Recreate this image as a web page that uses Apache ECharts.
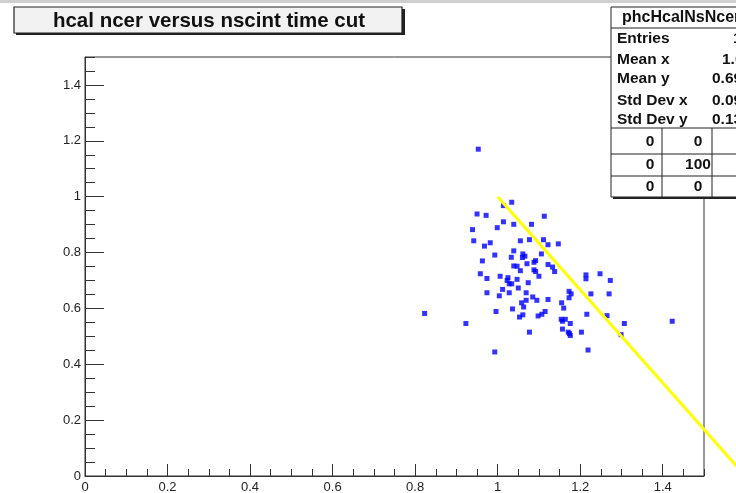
<!DOCTYPE html>
<html>
<head>
<meta charset="utf-8">
<style>html,body{margin:0;padding:0;background:#fff;}#c{width:736px;height:493px;}</style>
<script src="https://cdn.jsdelivr.net/npm/echarts@6/dist/echarts.min.js"></script>
</head>
<body>
<div id="c"></div>
<script>
// ---- data ----
const titleText = 'hcal ncer versus nscint time cut';
const xVals = [0.953,1.034,1.014,0.950,0.972,1.113,1.014,0.999,1.039,1.082,
  0.939,0.942,0.982,0.968,1.055,1.077,1.111,1.122,1.147,0.993,
  1.039,1.033,1.061,1.066,1.106,0.963,1.092,1.088,1.071,1.039,
  1.047,1.055,1.088,1.092,1.122,1.133,1.138,0.958,1.006,0.974,
  1.025,1.023,1.047,1.100,1.028,1.034,1.074,1.214,1.214,1.248,
  1.273,1.012,1.050,0.974,1.028,1.069,1.004,1.173,1.178,1.173,
  1.226,1.270,1.085,1.122,1.069,1.058,1.095,1.155,1.063,1.160,
  0.823,0.996,1.036,1.061,1.053,1.115,1.107,1.098,1.216,1.265,
  1.154,1.164,1.157,1.176,1.307,1.423,0.923,1.077,1.157,1.171,
  1.174,1.176,1.203,1.299,0.993,1.219,1.060];
const yVals = [1.170,0.980,0.968,0.938,0.933,0.930,0.910,0.889,0.901,0.901,
  0.882,0.842,0.835,0.823,0.842,0.846,0.846,0.828,0.831,0.791,
  0.806,0.783,0.795,0.787,0.795,0.770,0.771,0.765,0.760,0.752,
  0.751,0.735,0.738,0.732,0.757,0.748,0.732,0.724,0.715,0.707,
  0.710,0.700,0.704,0.715,0.688,0.688,0.692,0.720,0.706,0.724,
  0.700,0.668,0.673,0.656,0.656,0.656,0.645,0.661,0.652,0.638,
  0.652,0.652,0.641,0.632,0.629,0.620,0.629,0.620,0.605,0.601,
  0.582,0.589,0.598,0.577,0.569,0.589,0.579,0.573,0.579,0.574,
  0.561,0.561,0.554,0.546,0.546,0.554,0.546,0.515,0.526,0.515,
  0.510,0.503,0.515,0.506,0.444,0.451,0.782];
const cutLineX = [1.0, 1.6];
const cutLineY = [1.0, 0.0];
const statsTitle = 'phcHcalNsNcer';
const statsLabels = ['Entries','Mean x','Mean y','Std Dev x','Std Dev y'];
const statsValues = ['100','1.081','0.6937','0.0938','0.1306'];
const tableCells = [['0','0','0'],['0','100','0'],['0','0','0']];
const axisMin = 0, axisMax = 1.5, majorStep = 0.2, minorStep = 0.05;
const lineAxisMax = 1.6;

// ---- build ----
const scatterData = xVals.map((x,i)=>[x,yVals[i]]);
const lineData = cutLineX.map((x,i)=>[x,cutLineY[i]]);
const font = 'Liberation Sans, Arial, Helvetica, sans-serif';
const lbl = {color:'#222', fontSize:13, fontFamily:font};

const G = {left:85, top:57, right:704, bottom:476};
const gw = G.right-G.left, gh = G.bottom-G.top;

const graphics = [];
graphics.push({type:'rect', shape:{x:0,y:0,width:736,height:3}, style:{fill:'#cfcfcf'}, z:1});
// title box
graphics.push({type:'rect', shape:{x:16,y:9,width:389,height:26}, style:{fill:'#222'}, z:10});
graphics.push({type:'rect', shape:{x:14,y:7,width:388,height:26}, style:{fill:'#f2f2f2', stroke:'#222', lineWidth:1.2}, z:11});
graphics.push({type:'text', x:209, y:21, style:{text:titleText, font:'bold 20.5px '+font, fill:'#111', align:'center', verticalAlign:'middle'}, z:12});
// stats box
const sx = 611, sy = 7, sw = 220, sh = 190;
graphics.push({type:'rect', shape:{x:sx+2,y:sy+2,width:sw,height:sh}, style:{fill:'#222'}, z:10});
graphics.push({type:'rect', shape:{x:sx,y:sy,width:sw,height:sh}, style:{fill:'#fff', stroke:'#222', lineWidth:1}, z:11});
graphics.push({type:'line', shape:{x1:sx,y1:28,x2:sx+sw,y2:28}, style:{stroke:'#222', lineWidth:1}, z:12});
graphics.push({type:'text', x:622, y:18, style:{text:statsTitle, font:'bold 16px '+font, fill:'#111', align:'left', verticalAlign:'middle'}, z:12});
const rowY = [39,60,79,101,120];
const valX = [733,722,712,712,712];
statsLabels.forEach((t,i)=>{
  graphics.push({type:'text', x:617, y:rowY[i], style:{text:t, font:'bold 15.5px '+font, fill:'#111', align:'left', verticalAlign:'middle'}, z:12});
  graphics.push({type:'text', x:valX[i], y:rowY[i], style:{text:statsValues[i], font:'bold 15.5px '+font, fill:'#111', align:'left', verticalAlign:'middle'}, z:12});
});
[128,154,176].forEach(y=>graphics.push({type:'line', shape:{x1:sx,y1:y,x2:sx+sw,y2:y}, style:{stroke:'#222', lineWidth:1}, z:12}));
[662,712].forEach(x=>graphics.push({type:'line', shape:{x1:x,y1:128,x2:x,y2:sy+sh}, style:{stroke:'#222', lineWidth:1}, z:12}));
const cellY = [142,165,187];
const cellX = [650,698,748];
tableCells.forEach((row,r)=>row.forEach((t,c)=>{
  graphics.push({type:'text', x:cellX[c], y:cellY[r], style:{text:t, font:'bold 15.5px '+font, fill:'#111', align:'center', verticalAlign:'middle'}, z:12});
}));

const hiddenAxis = {axisLine:{show:false}, axisTick:{show:false}, axisLabel:{show:false}, splitLine:{show:false}};

const chart = echarts.init(document.getElementById('c'), null, {renderer:'canvas'});
chart.setOption({
  animation:false,
  backgroundColor:'#fff',
  grid:[
    {left:G.left, top:G.top, width:gw, height:gh, show:true, borderColor:'#333', borderWidth:1, backgroundColor:'transparent', containLabel:false, outerBoundsMode:'none'},
    {left:G.left, top:G.top, width:gw*(lineAxisMax-axisMin)/(axisMax-axisMin), height:gh, show:false, containLabel:false, outerBoundsMode:'none'}
  ],
  xAxis:[
    {type:'value', gridIndex:0, position:'bottom', min:axisMin, max:axisMax, interval:majorStep,
     axisLine:{show:true, onZero:false, lineStyle:{color:'#333', width:1}},
     axisTick:{show:true, inside:true, length:12, lineStyle:{color:'#333'}},
     axisLabel:{...lbl, margin:5, showMaxLabel:false, formatter:v=>(Math.abs(v-axisMax)<1e-9?'':String(+v.toFixed(2)))},
     splitLine:{show:false}},
    {type:'value', gridIndex:0, position:'bottom', min:axisMin, max:axisMax, interval:minorStep,
     axisLine:{show:false, onZero:false},
     axisTick:{show:true, inside:true, length:7, lineStyle:{color:'#333'}},
     axisLabel:{show:false}, splitLine:{show:false}},
    {type:'value', gridIndex:1, min:axisMin, max:lineAxisMax, ...hiddenAxis}
  ],
  yAxis:[
    {type:'value', gridIndex:0, position:'left', min:axisMin, max:axisMax, interval:majorStep,
     axisLine:{show:true, onZero:false, lineStyle:{color:'#333', width:1}},
     axisTick:{show:true, inside:true, length:19, lineStyle:{color:'#333'}},
     axisLabel:{...lbl, margin:4, showMaxLabel:false, formatter:v=>(Math.abs(v-axisMax)<1e-9?'':String(+v.toFixed(2)))},
     splitLine:{show:false}},
    {type:'value', gridIndex:0, position:'left', min:axisMin, max:axisMax, interval:minorStep,
     axisLine:{show:false, onZero:false},
     axisTick:{show:true, inside:true, length:10, lineStyle:{color:'#333'}},
     axisLabel:{show:false}, splitLine:{show:false}},
    {type:'value', gridIndex:1, min:axisMin, max:axisMax, ...hiddenAxis}
  ],
  series:[
    {type:'scatter', xAxisIndex:0, yAxisIndex:0, data:scatterData, symbol:'rect', symbolSize:5,
     itemStyle:{color:'#0000ff'}, z:3, silent:true},
    {type:'line', xAxisIndex:2, yAxisIndex:2, data:lineData, showSymbol:false, symbol:'none', clip:false,
     lineStyle:{color:'#ffff00', width:3}, z:4, silent:true}
  ],
  graphic:graphics
});
</script>
</body>
</html>
